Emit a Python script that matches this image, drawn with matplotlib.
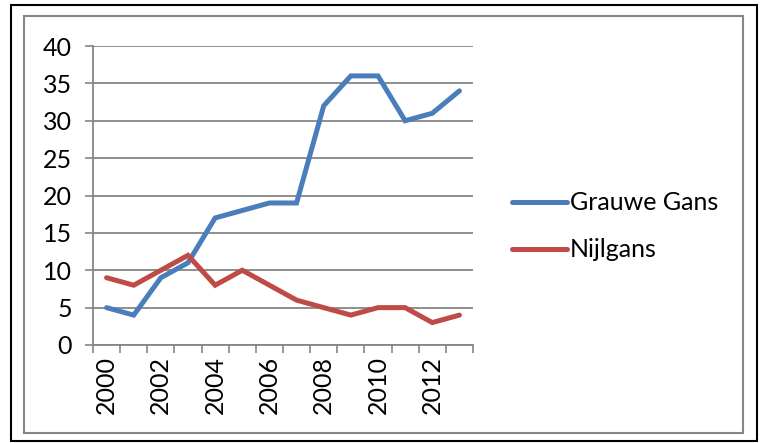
import matplotlib.pyplot as plt
from matplotlib.patches import Rectangle

years = list(range(2000, 2014))
grauwe_gans = [5, 4, 9, 11, 17, 18, 19, 19, 32, 36, 36, 30, 31, 34]
nijlgans = [9, 8, 10, 12, 8, 10, 8, 6, 5, 4, 5, 5, 3, 4]
year_labels = [str(y) if y % 2 == 0 else "" for y in years]

BLUE = "#4A7EBB"
RED = "#BE4B48"
GRID = "#868686"

plt.rcParams["font.family"] = ["Lato", "DejaVu Sans"]

W, H = 763, 443
fig = plt.figure(figsize=(W / 100, H / 100), dpi=100)

# outer black border and inner grey frame (Excel chart area)
fig.patches.append(Rectangle((11 / W, 1 - 441 / H), (757 - 11) / W, (441 - 5) / H,
                             transform=fig.transFigure, fill=False,
                             edgecolor="black", linewidth=1.5))
fig.patches.append(Rectangle((24 / W, 1 - 433 / H), (743 - 24) / W, (433 - 16) / H,
                             transform=fig.transFigure, fill=False,
                             edgecolor=GRID, linewidth=1.5))

left, right, top, bottom = 93, 473, 46, 345
ax = fig.add_axes([left / W, 1 - bottom / H, (right - left) / W, (bottom - top) / H])

x = range(len(years))
ax.plot(x, grauwe_gans, color=BLUE, linewidth=3.6, solid_capstyle="round",
        solid_joinstyle="miter", label="Grauwe Gans", zorder=3)
ax.plot(x, nijlgans, color=RED, linewidth=3.6, solid_capstyle="round",
        solid_joinstyle="miter", label="Nijlgans", zorder=3)

ax.set_xlim(-0.5, len(years) - 0.5)
ax.set_ylim(0, 40)
ax.set_yticks(range(0, 41, 5))
ax.tick_params(axis="y", length=6, width=1.2, color=GRID, labelsize=18, pad=9)
ax.yaxis.grid(True, color=GRID, linewidth=1.3)
ax.set_axisbelow(True)

# category boundaries as tick marks, labels at category centres
ax.set_xticks([i - 0.5 for i in range(len(years) + 1)])
ax.set_xticklabels([])
ax.set_xticks(list(x), minor=True)
ax.set_xticklabels(year_labels, minor=True, rotation=90, fontsize=18)
ax.tick_params(axis="x", which="major", length=6, width=1.2, color=GRID, direction="out")
ax.tick_params(axis="x", which="minor", length=0, pad=8)

for side in ["top", "right"]:
    ax.spines[side].set_visible(False)
for side in ["left", "bottom"]:
    ax.spines[side].set_color(GRID)
    ax.spines[side].set_linewidth(1.3)

leg = fig.legend(loc="upper left", bbox_to_anchor=(489 / W, 1 - 169 / H),
                 frameon=False, fontsize=18, handlelength=2.2, handletextpad=0.15,
                 labelspacing=0.95)

fig.savefig("out.png", dpi=100)
